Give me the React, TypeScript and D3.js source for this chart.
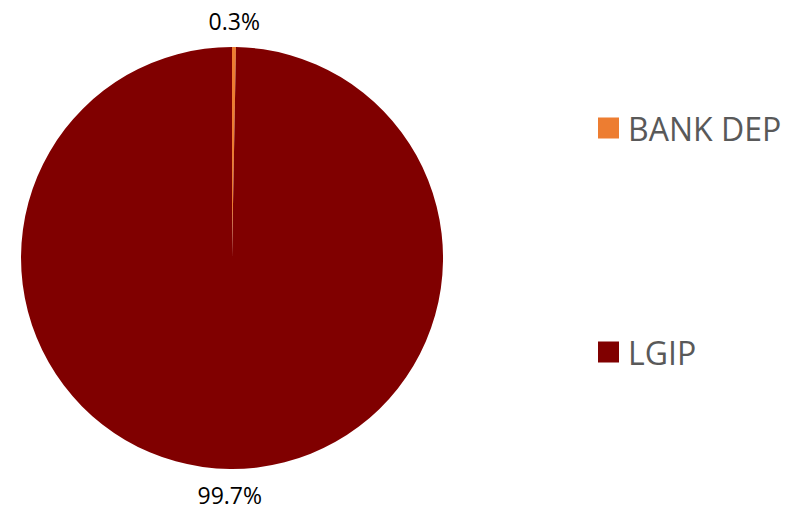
import React from "react";
import * as d3 from "d3";

const categories = ["BANK DEP", "LGIP"];
const values = [0.3, 99.7];
const labels = ["0.3%", "99.7%"];
const colors = ["#ED7D31", "#800000"];

export default function App() {
  const width = 801;
  const height = 511;
  const cx = 232;
  const cy = 258;
  const R = 211;
  const pie = d3.pie<number>().sort(null).value((d) => d)(values);
  const arc = d3.arc<d3.PieArcDatum<number>>().innerRadius(0).outerRadius(R);
  const legendY = d3.scalePoint<string>().domain(categories).range([128, 352]);
  return (
    <svg
      width={width}
      height={height}
      style={{ position: "absolute", left: 0, top: 0, background: "#fff" }}
      fontFamily="'Open Sans', sans-serif"
    >
      <g transform={`translate(${cx},${cy})`}>
        {pie.map((p, i) => (
          <path key={i} d={arc(p) || ""} fill={colors[i]} />
        ))}
        {pie.map((p, i) => {
          const a = (p.startAngle + p.endAngle) / 2;
          const r = R + 26;
          const x = r * Math.sin(a);
          const y = -r * Math.cos(a);
          return (
            <text
              key={"l" + i}
              x={x}
              y={y}
              textAnchor="middle"
              dominantBaseline="central"
              fontSize={23}
              fill="#000"
            >
              {labels[i]}
            </text>
          );
        })}
      </g>
      {categories.map((c, i) => (
        <g key={c} transform={`translate(598,${legendY(c)})`}>
          <rect x={0} y={-10.5} width={21} height={21} fill={colors[i]} />
          <text x={30} y={0} dominantBaseline="central" fontSize={32} fill="#595959">
            {c}
          </text>
        </g>
      ))}
    </svg>
  );
}
